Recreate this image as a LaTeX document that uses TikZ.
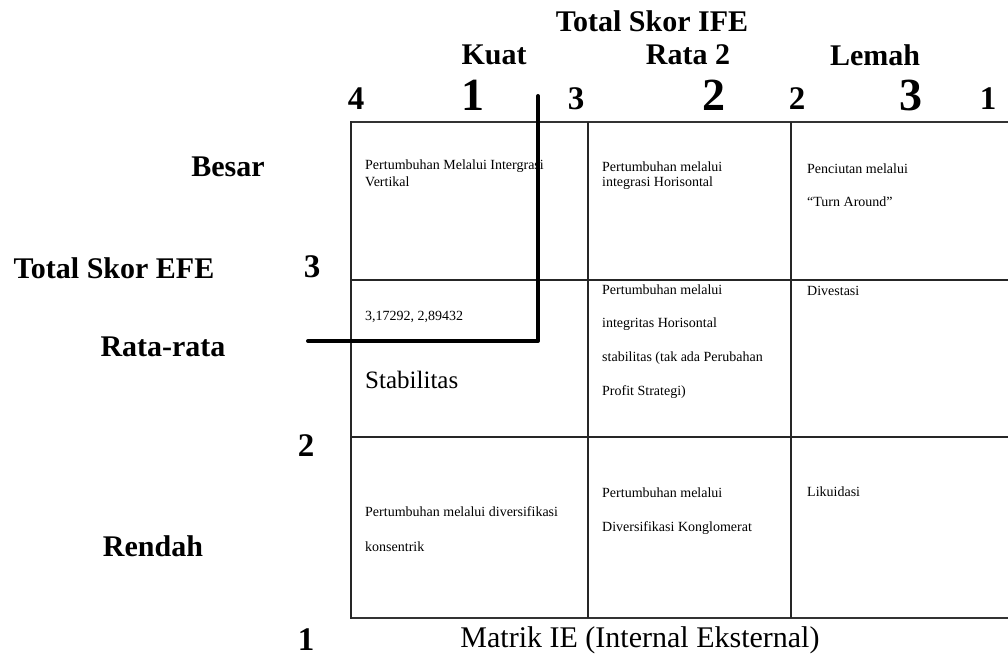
\documentclass[tikz,border=0pt]{standalone}
\usepackage{fontspec}
\setmainfont{Liberation Serif}
\begin{document}
\begin{tikzpicture}[x=1pt,y=-1pt,
  hdr/.style={font=\bfseries\fontsize{30}{30}\selectfont, inner sep=0pt},
  bignum/.style={font=\bfseries\fontsize{46}{46}\selectfont, inner sep=0pt},
  smallnum/.style={font=\bfseries\fontsize{33}{33}\selectfont, inner sep=0pt},
  celltxt/.style={font=\fontsize{14}{15}\selectfont, inner sep=0pt, anchor=west},
  grid/.style={line width=1.4pt, draw=black!85},
  outer/.style={line width=2pt, draw=black!80},
  marker/.style={line width=4pt, line cap=round, line join=round}]
\useasboundingbox (0,0) rectangle (1008,658);
% grid
\draw[outer] (351,122) -- (1008,122);
\draw[outer] (351,618) -- (1008,618);
\draw[grid] (351,121) -- (351,619);
\draw[grid] (588,122) -- (588,618);
\draw[grid] (791,122) -- (791,618);
\draw[grid] (351,280) -- (1008,280);
\draw[grid] (351,437) -- (1008,437);
% headers
\node[hdr] (ife) at (652,21) {Total Skor IFE};
\node[hdr] (kuat) at (494,55) {Kuat};
\node[hdr] (rata2) at (688,55) {Rata 2};
\node[hdr] (lemah) at (875,55) {Lemah};
\node[smallnum] (n4) at (356,99) {4};
\node[bignum] (n1) at (473,95) {1};
\node[smallnum] (n3) at (576,99) {3};
\node[bignum] (nt2) at (714,95) {2};
\node[smallnum] (nb2) at (797,99) {2};
\node[bignum] (nt3) at (911,95) {3};
\node[smallnum] (nt1) at (988,99) {1};
% left labels
\node[hdr] (besar) at (228,167) {Besar};
\node[hdr] (efe) at (114,268) {Total Skor EFE};
\node[smallnum] (l3) at (312,267) {3};
\node[hdr] (rr) at (163,347) {Rata-rata};
\node[smallnum] (l2) at (306,446) {2};
\node[hdr] (rendah) at (153,546) {Rendah};
\node[smallnum] (l1) at (306,640) {1};
\node[font=\fontsize{30}{30}\selectfont, inner sep=0pt] (title) at (640,640) {Matrik IE (Internal Eksternal)};
% cell texts
\node[celltxt] (c11a) at (365,166) {Pertumbuhan Melalui Intergrasi};
\node[celltxt] (c11b) at (365,182) {Vertikal};
\node[celltxt] (c12a) at (602,167) {Pertumbuhan melalui};
\node[celltxt] (c12b) at (602,183) {integrasi Horisontal};
\node[celltxt] (c13a) at (807,169) {Penciutan melalui};
\node[celltxt] (c13b) at (807,202) {“Turn Around”};
\node[celltxt] (c21a) at (365,317) {3,17292, 2,89432};
\node[celltxt, font=\fontsize{25}{25}\selectfont] (c21b) at (365,380) {Stabilitas};
\node[celltxt] (c22a) at (602,290) {Pertumbuhan melalui};
\node[celltxt] (c22b) at (602,324) {integritas Horisontal};
\node[celltxt] (c22c) at (602,358) {stabilitas (tak ada Perubahan};
\node[celltxt] (c22d) at (602,392) {Profit Strategi)};
\node[celltxt] (c23a) at (807,291) {Divestasi};
\node[celltxt] (c31a) at (365,512) {Pertumbuhan melalui diversifikasi};
\node[celltxt] (c31b) at (365,547) {konsentrik};
\node[celltxt] (c32a) at (602,493) {Pertumbuhan melalui};
\node[celltxt] (c32b) at (602,528) {Diversifikasi Konglomerat};
\node[celltxt] (c33a) at (807,492) {Likuidasi};
% position marker
\coordinate (mtop) at (538,96);
\coordinate (mcorner) at (538,341);
\coordinate (mleft) at (308,341);
\draw[marker] (mtop) -- (mcorner) -- (mleft);
\end{tikzpicture}
\end{document}
